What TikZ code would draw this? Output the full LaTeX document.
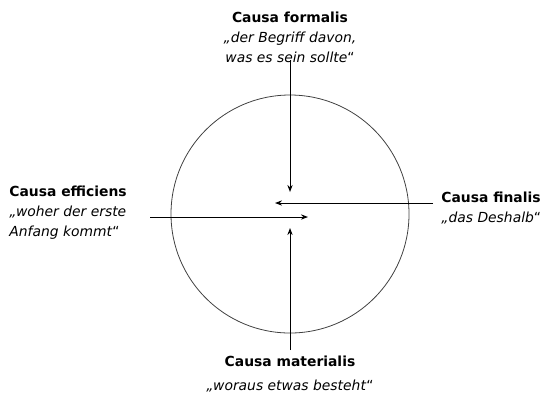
\documentclass[tikz,border=0pt]{standalone}
\usepackage{fontspec}
\setmainfont{DejaVu Sans}
\usetikzlibrary{arrows.meta,positioning}

\tikzset{
  causa/.style={font=\fontsize{7.9}{11.4}\selectfont, inner sep=0pt, align=#1},
  causa/.default=center,
  pfeil/.style={line width=0.55pt, -{Stealth[length=4pt,width=3pt]}},
}

\begin{document}
\begin{tikzpicture}[x=0.02cm,y=-0.02cm]
  \useasboundingbox (0,0) rectangle (546,397);
  % Kreis
  \draw[line width=0.45pt, black!75] (290,214) circle (119);

  % die vier Ursachen
  \node[causa=center] (formalis) at (290,37)
    {\textbf{Causa formalis}\\\textit{„der Begriff davon,}\\\textit{was es sein sollte}“};
  \node[causa=left, anchor=west] (efficiens) at (9,213)
    {\textbf{Causa efficiens}\\\textit{„woher der erste}\\\textit{Anfang kommt}“};
  \node[causa=left, anchor=west] (finalis) at (441,208)
    {\textbf{Causa finalis}\\\textit{„das Deshalb}“};
  \node[causa=center] (materialis) at (290,374)
    {\textbf{Causa materialis}\\[2pt]\textit{„woraus etwas besteht}“};

  % Pfeile zur Mitte
  \coordinate (oben-a) at (290,60);
  \coordinate (oben) at (290,192);
  \coordinate (rechts-a) at (433,203);
  \coordinate (rechts) at (275,203);
  \coordinate (links-a) at (150,217);
  \coordinate (links) at (308,217);
  \coordinate (unten-a) at (290,350);
  \coordinate (unten) at (290,228);
  \draw[pfeil] (oben-a) -- (oben);
  \draw[pfeil] (rechts-a) -- (rechts);
  \draw[pfeil] (links-a) -- (links);
  \draw[pfeil] (unten-a) -- (unten);
\end{tikzpicture}
\end{document}
